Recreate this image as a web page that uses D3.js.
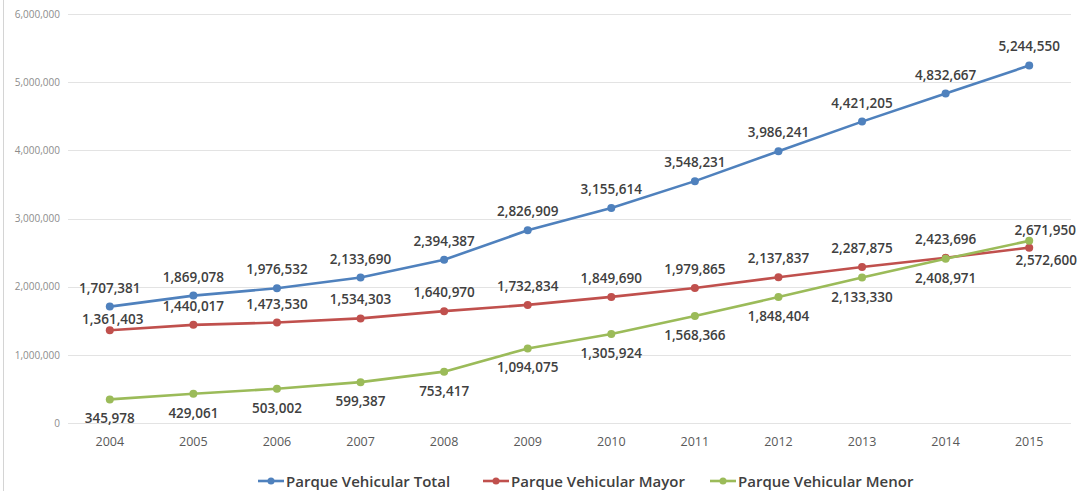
<!DOCTYPE html>
<html>
<head>
<meta charset="utf-8">
<script src="https://cdn.jsdelivr.net/npm/d3@7/dist/d3.min.js"></script>
<style>
  html, body { margin: 0; padding: 0; background: #fff; }
  svg { display: block; }
</style>
</head>
<body>
<svg id="chart" width="1087" height="491"></svg>
<script>
// Vehicle fleet by year
const years = ["2004","2005","2006","2007","2008","2009","2010","2011","2012","2013","2014","2015"];
const parqueTotal = [1707381,1869078,1976532,2133690,2394387,2826909,3155614,3548231,3986241,4421205,4832667,5244550];
const parqueMayor = [1361403,1440017,1473530,1534303,1640970,1732834,1849690,1979865,2137837,2287875,2423696,2572600];
const parqueMenor = [345978,429061,503002,599387,753417,1094075,1305924,1568366,1848404,2133330,2408971,2671950];
const yTicks = [0,1000000,2000000,3000000,4000000,5000000,6000000];
const seriesNames = ["Parque Vehicular Total","Parque Vehicular Mayor","Parque Vehicular Menor"];
const seriesColors = ["#4F81BD","#C0504D","#9BBB59"];

const series = [
  { name: seriesNames[0], values: parqueTotal, color: seriesColors[0], side: -1 },
  { name: seriesNames[1], values: parqueMayor, color: seriesColors[1], side: -1 },
  { name: seriesNames[2], values: parqueMenor, color: seriesColors[2], side: 1 }
];

// label nudges where neighbouring labels would collide: [seriesIndex, yearIndex] -> {dx, dy}
const labelNudge = {
  "1-0": { dx: 3, dy: -11 },
  "1-11": { dx: 17, dy: 12 },
  "2-11": { dx: 16, dy: -11 }
};

const svg = d3.select("#chart");
const fmt = d3.format(",");

const x = d3.scaleBand().domain(years).range([68, 1071]);
const y = d3.scaleLinear().domain([0, 6000000]).range([423, 14]);

// outer frame edge on the left
svg.append("line")
  .attr("x1", 3.5).attr("x2", 3.5).attr("y1", 0).attr("y2", 491)
  .attr("stroke", "#d4d4d4").attr("stroke-width", 1);

// horizontal gridlines
svg.append("g").selectAll("line").data(yTicks).join("line")
  .attr("x1", 68).attr("x2", 1071)
  .attr("y1", d => Math.round(y(d)) + 0.5).attr("y2", d => Math.round(y(d)) + 0.5)
  .attr("stroke", "#e3e3e3").attr("stroke-width", 1);

// y axis labels
const yAxis = svg.append("g").attr("transform", "translate(60,0)")
  .call(d3.axisLeft(y).tickValues(yTicks).tickFormat(fmt).tickSize(0).tickPadding(0));
yAxis.select(".domain").remove();
yAxis.selectAll("text")
  .attr("font-family", "'Open Sans', sans-serif").attr("font-size", 10)
  .attr("fill", "#8c8c8c");

// x axis labels
const xAxis = svg.append("g").attr("transform", "translate(0,437)")
  .call(d3.axisBottom(x).tickSize(0).tickPadding(0));
xAxis.select(".domain").remove();
xAxis.selectAll("text")
  .attr("font-family", "'Open Sans', sans-serif").attr("font-size", 12.5)
  .attr("fill", "#595959");

const cx = d => x(d) + x.bandwidth() / 2;

// lines and markers
const line = d3.line().x((v, i) => cx(years[i])).y(v => y(v));
series.forEach((s, si) => {
  const g = svg.append("g");
  g.append("path").datum(s.values)
    .attr("d", line).attr("fill", "none")
    .attr("stroke", s.color).attr("stroke-width", 2.6).attr("stroke-linejoin", "round");
  g.selectAll("circle").data(s.values).join("circle")
    .attr("cx", (v, i) => cx(years[i])).attr("cy", v => y(v))
    .attr("r", 4).attr("fill", s.color);
});

// value labels
series.forEach((s, si) => {
  svg.append("g").selectAll("text").data(s.values).join("text")
    .attr("x", (v, i) => cx(years[i]) + ((labelNudge[si + "-" + i] || {}).dx || 0))
    .attr("y", (v, i) => {
      const n = labelNudge[si + "-" + i];
      return y(v) + (n ? n.dy : s.side * 19);
    })
    .attr("text-anchor", "middle").attr("dominant-baseline", "central")
    .attr("font-family", "'Open Sans', sans-serif").attr("font-size", 13.5)
    .attr("font-weight", 600).attr("fill", "#404040")
    .text(v => fmt(v));
});

// legend
const legendX = [258, 483, 710];
const legend = svg.append("g");
series.forEach((s, si) => {
  const lg = legend.append("g").attr("transform", `translate(${legendX[si]},481)`);
  lg.append("line").attr("x1", 0).attr("x2", 26).attr("y1", 0).attr("y2", 0)
    .attr("stroke", s.color).attr("stroke-width", 2.6);
  lg.append("circle").attr("cx", 13).attr("cy", 0).attr("r", 3.5).attr("fill", s.color);
  lg.append("text").attr("x", 28).attr("y", 0)
    .attr("dominant-baseline", "central")
    .attr("font-family", "'Open Sans', sans-serif").attr("font-size", 15)
    .attr("font-weight", 600).attr("fill", "#404040")
    .text(s.name);
});
</script>
</body>
</html>
